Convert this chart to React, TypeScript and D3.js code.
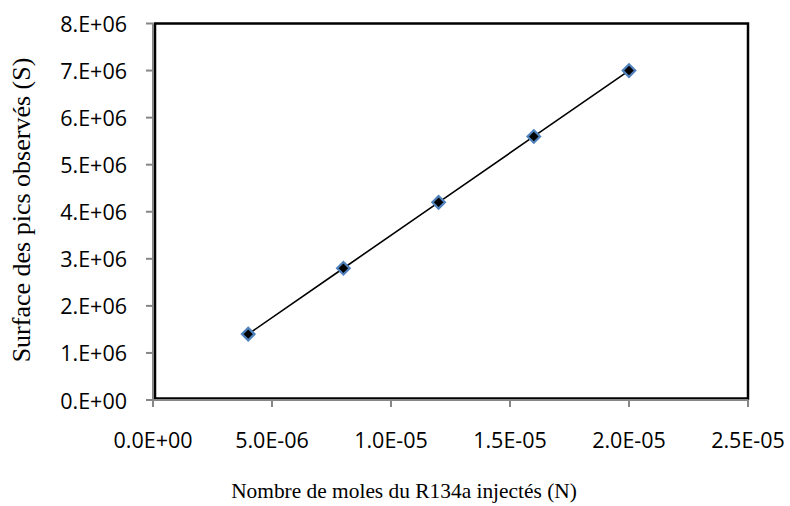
import React from "react";
import * as d3 from "d3";

// Calibration points: injected moles (N) vs. observed peak area (S)
const molesN = [4e-6, 8e-6, 1.2e-5, 1.6e-5, 2e-5];
const surfaceS = [1.4e6, 2.8e6, 4.2e6, 5.6e6, 7.0e6];

const xTicks = [0, 5e-6, 1e-5, 1.5e-5, 2e-5, 2.5e-5];
const xTickLabels = ["0.0E+00", "5.0E-06", "1.0E-05", "1.5E-05", "2.0E-05", "2.5E-05"];
const yTicks = [0, 1e6, 2e6, 3e6, 4e6, 5e6, 6e6, 7e6, 8e6];
const yTickLabels = ["0.E+00", "1.E+06", "2.E+06", "3.E+06", "4.E+06", "5.E+06", "6.E+06", "7.E+06", "8.E+06"];

const xTitle = "Nombre de moles du R134a injectés (N)";
const yTitle = "Surface des pics observés (S)";

const W = 790;
const H = 506;
const left = 153;
const right = 748;
const top = 23.5;
const bottom = 400;

export default function App() {
  const x = d3.scaleLinear().domain([0, 2.5e-5]).range([left, right]);
  const y = d3.scaleLinear().domain([0, 8e6]).range([bottom, top]);

  const pts: [number, number][] = molesN.map((n, i) => [n, surfaceS[i]]);
  const line = d3
    .line<[number, number]>()
    .x((d) => x(d[0]))
    .y((d) => y(d[1]));
  const diamond = d3.symbol().type(d3.symbolDiamond2).size(100)();

  const tickFont = "'Open Sans', sans-serif";
  const titleFont = "'Liberation Serif', 'Times New Roman', serif";

  return (
    <svg
      width={W}
      height={H}
      style={{ position: "absolute", left: 0, top: 0, background: "#fff" }}
    >
      {/* plot area frame */}
      <rect
        x={left + 2}
        y={top}
        width={right - left - 2}
        height={bottom - top - 1.5}
        fill="none"
        stroke="#000"
        strokeWidth={2.5}
      />
      {/* value axis */}
      <line x1={left} x2={left} y1={top} y2={bottom + 1} stroke="#868686" strokeWidth={2} />
      {yTicks.map((t, i) => (
        <g key={"y" + i}>
          <line x1={left - 7} x2={left} y1={y(t)} y2={y(t)} stroke="#868686" strokeWidth={2} />
          <text
            x={127}
            y={y(t)}
            textAnchor="end"
            dominantBaseline="central"
            fontFamily={tickFont}
            fontSize={21.5}
            fill="#000"
          >
            {yTickLabels[i]}
          </text>
        </g>
      ))}
      {/* category axis */}
      <line x1={left - 1} x2={right} y1={bottom} y2={bottom} stroke="#868686" strokeWidth={2} />
      {xTicks.map((t, i) => (
        <g key={"x" + i}>
          <line x1={x(t)} x2={x(t)} y1={bottom} y2={bottom + 7} stroke="#868686" strokeWidth={2} />
          <text
            x={x(t)}
            y={448}
            textAnchor="middle"
            fontFamily={tickFont}
            fontSize={21.5}
            fill="#000"
          >
            {xTickLabels[i]}
          </text>
        </g>
      ))}
      {/* series line and markers */}
      <path d={line(pts) || ""} fill="none" stroke="#000" strokeWidth={1.6} />
      {pts.map((p, i) => (
        <path
          key={"m" + i}
          d={diamond || ""}
          transform={`translate(${x(p[0])},${y(p[1])})`}
          fill="#000"
          stroke="#4F81BD"
          strokeWidth={2.2}
        />
      ))}
      {/* axis titles */}
      <text
        x={404}
        y={498}
        textAnchor="middle"
        fontFamily={titleFont}
        fontSize={21.4}
        fill="#000"
      >
        {xTitle}
      </text>
      <text
        transform={`translate(30,210) rotate(-90)`}
        textAnchor="middle"
        fontFamily={titleFont}
        fontSize={26}
        fill="#000"
      >
        {yTitle}
      </text>
    </svg>
  );
}
